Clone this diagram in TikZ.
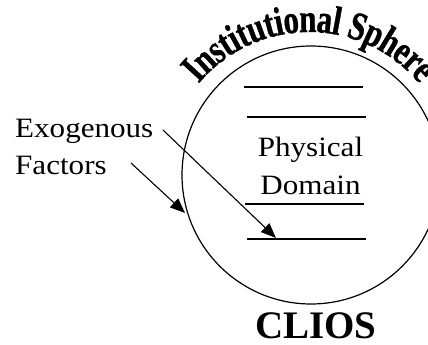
\documentclass[tikz,border=0pt]{standalone}
\usepackage{fontspec}
\setmainfont{Liberation Serif}
\newfontfamily\widefont[FakeStretch=1.11]{Liberation Serif}
\newfontfamily\archfont[FakeBold=1]{Liberation Serif Bold}
\usetikzlibrary{arrows.meta,calc}
\begin{document}
\begin{tikzpicture}[x=1pt,y=1pt,
  lbl/.style={inner sep=0, font=\widefont\fontsize{28}{34}\selectfont},
  arcchar/.style={inner sep=0, anchor=base, font=\archfont\fontsize{31}{37}\selectfont},
  rule/.style={line width=1.6pt},
  arr/.style={line width=1.1pt, -{Triangle[length=15pt,width=12pt]}},
]
\useasboundingbox (0,0) rectangle (428,345);
\clip (0,0) rectangle (428,345);
% sphere
\node[circle, draw, line width=1.2pt, minimum size=258pt, inner sep=0] (sphere) at (311,170) {};
% arched title, one letter at a time
\coordinate (arcc) at (309,169);
\gdef\arcacc{0}
\foreach \ch/\w [count=\i] in {I/.389,n/.556,s/.389,t/.333,i/.278,t/.333,u/.556,t/.333,i/.278,o/.5,n/.556,a/.5,l/.278,{}/.25,S/.556,p/.556,h/.556,e/.444,r/.444,e/.444} {
  \pgfmathsetmacro\ang{140-(\arcacc+\w/2)*29.5/144*57.29578}
  \node[arcchar, rotate=\ang-90] (arc\i) at ($(arcc)+(\ang:144)$) {\scalebox{1}[1.3]{\ch}};
  \pgfmathsetmacro\newacc{\arcacc+\w}
  \xdef\arcacc{\newacc}
}
% horizontal rules
\coordinate (l1a) at (244,258); \coordinate (l1b) at (363,258);
\coordinate (l2a) at (247,228); \coordinate (l2b) at (366,228);
\coordinate (l3a) at (245,141); \coordinate (l3b) at (364,141);
\coordinate (l4a) at (247,106); \coordinate (l4b) at (366,106);
\draw[rule] (l1a) -- (l1b);
\draw[rule] (l2a) -- (l2b);
\draw[rule] (l3a) -- (l3b);
\draw[rule] (l4a) -- (l4b);
% labels
\node[lbl, anchor=base west] (exo) at (15,207.5) {Exogenous};
\node[lbl, anchor=base west] (fac) at (15,170) {Factors};
\node[lbl, anchor=base] (phys) at (310.5,188) {Physical};
\node[lbl, anchor=base] (dom) at (310.5,150) {Domain};
\node[inner sep=0, anchor=base, font=\fontsize{39}{46}\selectfont\bfseries] (clios) at (316,6) {CLIOS};
% arrows
\coordinate (a1s) at (163,215);
\coordinate (a1e) at (276,107);
\coordinate (a2s) at (131,182);
\coordinate (a2e) at (185,132);
\draw[arr] (a1s) -- (a1e);
\draw[arr] (a2s) -- (a2e);
\end{tikzpicture}
\end{document}
